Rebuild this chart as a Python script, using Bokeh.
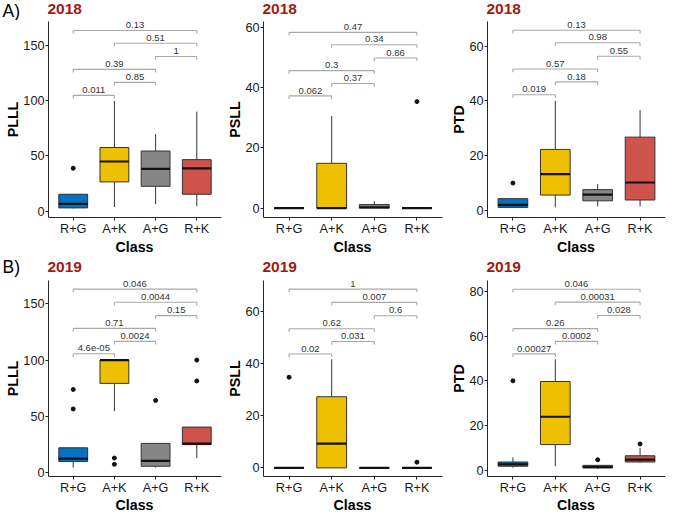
from math import pi
from bokeh.plotting import figure
from bokeh.layouts import row, column
from bokeh.models import Range1d, FixedTicker, ColumnDataSource
from bokeh.core.properties import value
from bokeh.embed import file_html
from bokeh.resources import INLINE

FONT = "Liberation Sans"
FONT_V = value(FONT)

classes = ["R+G", "A+K", "A+G", "R+K"]
class_colors = ["#0073C2", "#EFC000", "#868686", "#CD534C"]
comparisons = [(1, 2), (2, 3), (1, 3), (3, 4), (2, 4), (1, 4)]
years = ["2018", "2019"]
row_tags = ["A)", "B)"]
x_title = "Class"
y_titles = ["PLLL", "PSLL", "PTD"]

# ---- 2018 PLLL ----
plll18_lo = [2.5, 3.7, 6.3, 4.6]
plll18_q1 = [2.9, 26.5, 22.5, 15.3]
plll18_med = [6.6, 45.0, 38.4, 38.7]
plll18_q3 = [15.3, 57.7, 54.5, 46.7]
plll18_hi = [15.3, 100.0, 70.0, 90.3]
plll18_out_cls = ["R+G"]
plll18_out_val = [38.9]
plll18_p = ["0.011", "0.85", "0.39", "1", "0.51", "0.13"]
plll18_p_y = [105, 116.8, 128.6, 140.2, 152.3, 163.8]
plll18_ticks = [0, 50, 100, 150]

# ---- 2018 PSLL ----
psll18_lo = [0, 0, 0, 0]
psll18_q1 = [0, 0, 0, 0]
psll18_med = [0, 0, 0.3, 0]
psll18_q3 = [0, 14.9, 1.2, 0]
psll18_hi = [0, 30.6, 2.3, 0]
psll18_out_cls = ["R+K"]
psll18_out_val = [35.4]
psll18_p = ["0.062", "0.37", "0.3", "0.86", "0.34", "0.47"]
psll18_p_y = [37.3, 41.4, 45.7, 49.9, 54.3, 58.4]
psll18_ticks = [0, 20, 40, 60]

# ---- 2018 PTD ----
ptd18_lo = [1.0, 1.0, 1.4, 1.4]
ptd18_q1 = [1.0, 5.5, 3.4, 3.7]
ptd18_med = [1.9, 13.2, 5.7, 10.1]
ptd18_q3 = [4.2, 22.2, 7.5, 26.7]
ptd18_hi = [4.2, 40.0, 9.5, 36.6]
ptd18_out_cls = ["R+G"]
ptd18_out_val = [9.9]
ptd18_p = ["0.019", "0.18", "0.57", "0.55", "0.98", "0.13"]
ptd18_p_y = [42.2, 46.9, 51.6, 56.3, 61.2, 65.8]
ptd18_ticks = [0, 20, 40, 60]

# ---- 2019 PLLL ----
plll19_lo = [4.5, 54.6, 4.5, 13.0]
plll19_q1 = [9.9, 79.3, 5.7, 24.9]
plll19_med = [12.5, 100.0, 10.5, 25.8]
plll19_q3 = [22.1, 100.0, 26.0, 40.5]
plll19_hi = [22.1, 100.0, 26.0, 40.5]
plll19_out_cls = ["R+G", "R+G", "A+K", "A+K", "A+G", "R+K", "R+K"]
plll19_out_val = [73.9, 56.6, 13.0, 7.4, 64.2, 100.0, 81.5]
plll19_p = ["4.6e-05", "0.0024", "0.71", "0.15", "0.0044", "0.046"]
plll19_p_y = [105.6, 116.6, 128.2, 139.5, 151.4, 163.0]
plll19_ticks = [0, 50, 100, 150]

# ---- 2019 PSLL ----
psll19_lo = [0, 0, 0, 0]
psll19_q1 = [0, 0, 0, 0]
psll19_med = [0, 9.3, 0, 0]
psll19_q3 = [0, 27.3, 0, 0]
psll19_hi = [0, 41.7, 0, 0]
psll19_out_cls = ["R+G", "R+K"]
psll19_out_val = [34.8, 2.2]
psll19_p = ["0.02", "0.031", "0.62", "0.6", "0.007", "1"]
psll19_p_y = [43.7, 48.5, 53.4, 58.4, 63.5, 68.6]
psll19_ticks = [0, 20, 40, 60]

# ---- 2019 PTD ----
ptd19_lo = [1.0, 1.7, 0.5, 3.3]
ptd19_q1 = [1.7, 11.4, 1.0, 3.6]
ptd19_med = [2.6, 23.9, 1.3, 4.7]
ptd19_q3 = [3.6, 39.7, 2.1, 6.4]
ptd19_hi = [5.7, 49.7, 2.1, 10.0]
ptd19_out_cls = ["R+G", "A+G", "R+K"]
ptd19_out_val = [40.0, 4.6, 11.7]
ptd19_p = ["0.00027", "0.0002", "0.26", "0.028", "0.00031", "0.046"]
ptd19_p_y = [52.1, 57.7, 63.4, 69.3, 75.3, 81.1]
ptd19_ticks = [0, 20, 40, 60, 80]

TITLE_COLOR = "#9E1B14"
AXIS_COLOR = "#262626"
BOX_LINE = "#333333"
BRACKET_COLOR = "#A8A8A8"

# ---------------- layout geometry (pixels) ----------------
GW = [20, 20, 21]          # gutter widths (hold the y titles)
GX = [12.2, 12.8, 13.0]    # centre of the y title inside each gutter
PW = [202, 203, 202]       # panel figure widths
BL = [27, 20, 20]          # panel left borders (tick labels)
BR = [1, 3, 3]
BT, BB = 1, 19
FH = 198                   # frame height
PH = BT + FH + BB          # panel figure height
H_TOP, H_MID, H_FOOT = 20, 41, 15
TOTAL_W = sum(GW) + sum(PW)

frame_left = []
frame_center = []
xcur = 0
for i in range(3):
    xcur += GW[i]
    frame_left.append(xcur + BL[i])
    fw = PW[i] - BL[i] - BR[i]
    frame_center.append(xcur + BL[i] + fw / 2)
    xcur += PW[i]


def blank(w, h, yr=None):
    s = figure(width=w, height=h, x_range=Range1d(0, w),
               y_range=Range1d(*(yr if yr else (h, 0))),
               output_backend="svg", toolbar_location=None, title=None,
               x_axis_location=None, y_axis_location=None,
               min_border=0, min_border_left=0, min_border_right=0,
               min_border_top=0, min_border_bottom=0)
    s.outline_line_color = None
    s.xgrid.visible = False
    s.ygrid.visible = False
    s.background_fill_color = "white"
    s.border_fill_color = "white"
    return s


def add_text(s, x, y, t, size, bold=False, color="#000000", align="left", angle=0.0):
    # y is the vertical centre of the text
    s.text(x=[x], y=[y], text=[t], text_font=FONT_V, text_font_size=size,
           text_font_style="bold" if bold else "normal", text_color=color,
           text_align=align, text_baseline="middle", angle=angle)


def panel(i, yr, lo, q1, med, q3, hi, out_cls, out_val, pvals, p_y, ticks):
    xr = (0.4, 4.6)
    p = figure(width=PW[i], height=PH, x_range=Range1d(*xr), y_range=Range1d(*yr),
               output_backend="svg", toolbar_location=None, title=None,
               min_border_left=BL[i], min_border_right=BR[i],
               min_border_top=BT, min_border_bottom=BB)
    p.outline_line_color = None
    p.xgrid.visible = False
    p.ygrid.visible = False
    p.background_fill_color = "white"
    p.border_fill_color = "white"
    ppy = FH / (yr[1] - yr[0])

    xs = [classes.index(c) + 1 for c in classes]
    src = ColumnDataSource(dict(x=xs, lo=lo, q1=q1, med=med, q3=q3, hi=hi,
                                color=class_colors,
                                x0=[x - 0.35 for x in xs], x1=[x + 0.35 for x in xs]))
    p.segment(x0="x", y0="q3", x1="x", y1="hi", source=src, line_color=BOX_LINE, line_width=1)
    p.segment(x0="x", y0="lo", x1="x", y1="q1", source=src, line_color=BOX_LINE, line_width=1)
    p.vbar(x="x", width=0.7, bottom="q1", top="q3", source=src, fill_color="color",
           line_color=BOX_LINE, line_width=1)
    p.segment(x0="x0", y0="med", x1="x1", y1="med", source=src, line_color="#111111",
              line_width=2.2)
    ox = [classes.index(c) + 1 for c in out_cls]
    p.scatter(ox, out_val, size=4, color="#111111")

    # significance brackets
    tip = 3.2 / ppy
    bx0 = [a for a, b in comparisons]
    bx1 = [b for a, b in comparisons]
    p.segment(x0=bx0, y0=p_y, x1=bx1, y1=p_y, line_color=BRACKET_COLOR, line_width=1.1)
    p.segment(x0=bx0, y0=[y - tip for y in p_y], x1=bx0, y1=p_y,
              line_color=BRACKET_COLOR, line_width=1.1)
    p.segment(x0=bx1, y0=[y - tip for y in p_y], x1=bx1, y1=p_y,
              line_color=BRACKET_COLOR, line_width=1.1)
    tsrc = ColumnDataSource(dict(x=[(a + b) / 2 for a, b in comparisons],
                                 y=[y + 5.4 / ppy for y in p_y], t=pvals))
    p.text(x="x", y="y", text="t", source=tsrc, text_align="center",
           text_baseline="middle", text_font_size="9.5px", text_color="#333333",
           text_font=FONT_V)

    for ax in (p.xaxis[0], p.yaxis[0]):
        ax.axis_line_color = AXIS_COLOR
        ax.major_tick_line_color = AXIS_COLOR
        ax.major_tick_out = 3
        ax.major_tick_in = 0
        ax.minor_tick_line_color = None
        ax.major_label_text_font = FONT
        ax.major_label_text_font_size = "12.7px"
        ax.major_label_text_color = "#1a1a1a"
        ax.major_label_standoff = 1
    p.xaxis.ticker = FixedTicker(ticks=[1, 2, 3, 4])
    p.xaxis.major_label_overrides = {1: classes[0], 2: classes[1], 3: classes[2], 4: classes[3]}
    p.yaxis.ticker = FixedTicker(ticks=ticks)
    return p


def gutter(i, label):
    # its frame is aligned with the panels' frames by the row layout
    g = blank(GW[i], PH, yr=(0, 1))
    add_text(g, GX[i], 0.5, label, "14.2px", bold=True, align="center", angle=pi / 2)
    return g


# header strips (y measured downward from the strip's top)
top = blank(TOTAL_W, H_TOP)
add_text(top, 2, 10.6, row_tags[0], "17.5px")
for i in range(3):
    add_text(top, frame_left[i], 8.2, years[0], "15.5px", bold=True, color=TITLE_COLOR)

mid = blank(TOTAL_W, H_MID)
for i in range(3):
    add_text(mid, frame_center[i], 8.0, x_title, "14.2px", bold=True, align="center")
add_text(mid, 2, 28.6, row_tags[1], "17.5px")
for i in range(3):
    add_text(mid, frame_left[i], 28.8, years[1], "15.5px", bold=True, color=TITLE_COLOR)

foot = blank(TOTAL_W, H_FOOT)
for i in range(3):
    add_text(foot, frame_center[i], 7.5, x_title, "14.2px", bold=True, align="center")

p1 = panel(0, (-5.8, 172), plll18_lo, plll18_q1, plll18_med, plll18_q3, plll18_hi,
           plll18_out_cls, plll18_out_val, plll18_p, plll18_p_y, plll18_ticks)
p2 = panel(1, (-3.1, 62), psll18_lo, psll18_q1, psll18_med, psll18_q3, psll18_hi,
           psll18_out_cls, psll18_out_val, psll18_p, psll18_p_y, psll18_ticks)
p3 = panel(2, (-2.7, 69), ptd18_lo, ptd18_q1, ptd18_med, ptd18_q3, ptd18_hi,
           ptd18_out_cls, ptd18_out_val, ptd18_p, ptd18_p_y, ptd18_ticks)
p4 = panel(0, (-3.4, 170.7), plll19_lo, plll19_q1, plll19_med, plll19_q3, plll19_hi,
           plll19_out_cls, plll19_out_val, plll19_p, plll19_p_y, plll19_ticks)
p5 = panel(1, (-3.3, 71.9), psll19_lo, psll19_q1, psll19_med, psll19_q3, psll19_hi,
           psll19_out_cls, psll19_out_val, psll19_p, psll19_p_y, psll19_ticks)
p6 = panel(2, (-2.9, 85), ptd19_lo, ptd19_q1, ptd19_med, ptd19_q3, ptd19_hi,
           ptd19_out_cls, ptd19_out_val, ptd19_p, ptd19_p_y, ptd19_ticks)

row1 = row(gutter(0, y_titles[0]), p1, gutter(1, y_titles[1]), p2, gutter(2, y_titles[2]), p3,
           spacing=0)
row2 = row(gutter(0, y_titles[0]), p4, gutter(1, y_titles[1]), p5, gutter(2, y_titles[2]), p6,
           spacing=0)
layout = column(top, row1, mid, row2, foot, spacing=0)
open("out.html", "w").write(file_html(layout, INLINE))
